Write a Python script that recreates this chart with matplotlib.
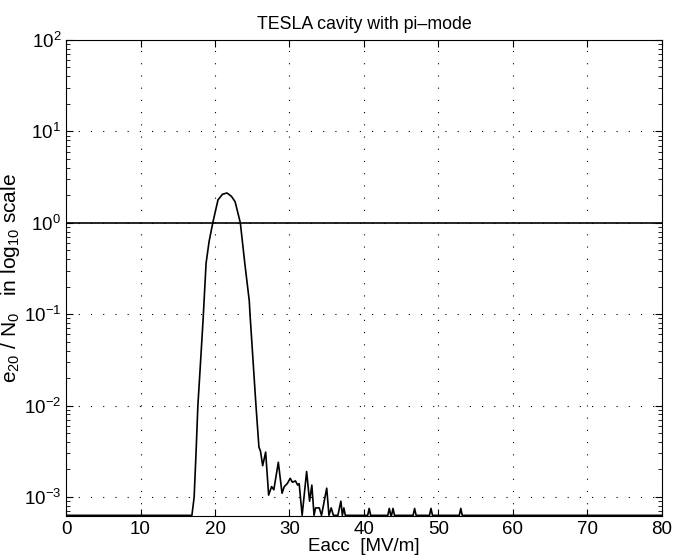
import numpy as np
import matplotlib
matplotlib.use("Agg")
import matplotlib.pyplot as plt
from matplotlib.ticker import LogLocator, FixedLocator

plt.rcParams['font.family'] = ['Liberation Sans', 'DejaVu Sans']
plt.rcParams['mathtext.default'] = 'regular'

# e20/N0 versus Eacc (6.3e-4 = sits on the bottom axis)
eacc = [0.0, 16.9, 17.2, 17.45, 17.7, 18.0, 18.4, 18.8, 19.2, 19.7,
        20.4, 21.0, 21.6, 22.2, 22.7, 23.4, 24.0, 24.6, 24.7, 25.5, 25.9,
        26.1, 26.4, 26.8, 27.2, 27.6, 27.9, 28.5, 29.0, 29.3, 29.7, 30.1,
        30.4, 30.8, 31.1, 31.3, 31.7, 32.3, 32.7, 33.0, 33.3, 33.5, 34.0,
        34.3, 35.0, 35.3, 35.6, 35.9, 36.5, 36.9, 37.1, 37.3, 37.5,
        40.5, 40.7, 40.9, 43.2, 43.4, 43.6, 43.7, 43.9, 44.1,
        46.6, 46.8, 47.0, 48.8, 49.0, 49.2, 52.8, 53.0, 53.2, 80.0]
e20 = [6.3e-4, 6.3e-4, 1.0e-3, 3e-3, 1e-2, 2.5e-2, 8.7e-2, 0.36, 0.62, 1.0,
       1.78, 2.05, 2.12, 1.95, 1.7, 1.0, 0.36, 0.14, 0.1, 1e-2, 3.5e-3,
       3.2e-3, 2.2e-3, 3.1e-3, 1.05e-3, 1.3e-3, 1.2e-3, 2.4e-3, 1.1e-3, 1.3e-3, 1.4e-3, 1.6e-3,
       1.45e-3, 1.5e-3, 1.35e-3, 1.4e-3, 6.3e-4, 1.9e-3, 9e-4, 1.35e-3, 6.3e-4, 7.6e-4, 7.6e-4,
       6.3e-4, 1.25e-3, 6.3e-4, 7.6e-4, 6.3e-4, 6.3e-4, 9e-4, 6.3e-4, 7.6e-4, 6.3e-4,
       6.3e-4, 7.5e-4, 6.3e-4, 6.3e-4, 7.5e-4, 6.3e-4, 6.3e-4, 7.5e-4, 6.3e-4,
       6.3e-4, 7.5e-4, 6.3e-4, 6.3e-4, 7.5e-4, 6.3e-4, 6.3e-4, 7.5e-4, 6.3e-4, 6.3e-4]
ref_x = [0, 80]
ref_y = [1.0, 1.0]

fig = plt.figure(figsize=(6.74, 5.6), dpi=100)
ax = fig.add_axes([0.098, 0.0786, 0.884, 0.85])

ax.plot(eacc, e20, color='k', lw=1.2)
ax.plot(ref_x, ref_y, color='k', lw=1.2)

ax.set_yscale('log')
ax.set_xlim(0, 80)
ax.set_ylim(6.2e-4, 100)
ax.xaxis.set_major_locator(FixedLocator(np.arange(0, 81, 10)))
ax.yaxis.set_major_locator(LogLocator(base=10, numticks=10))
ax.yaxis.set_minor_locator(LogLocator(base=10, subs=np.arange(2, 10), numticks=20))
ax.tick_params(which='both', direction='in', top=True, right=True, labelsize=13.5)
ax.tick_params(which='major', length=5)
ax.tick_params(which='minor', length=3)
ax.tick_params(axis='x', which='minor', bottom=False, top=False)

ax.grid(True, which='major', color='k', linestyle=(0, (1, 10)), lw=0.8)

ax.set_title("TESLA cavity with pi\u2013mode", fontsize=12.8, pad=8)
ax.set_xlabel("Eacc  [MV/m]", fontsize=13.5, labelpad=0)
ax.set_ylabel("e$_{20}$ / N$_0$   in log$_{10}$ scale", fontsize=15, labelpad=1)

fig.savefig("out.png", dpi=100)
